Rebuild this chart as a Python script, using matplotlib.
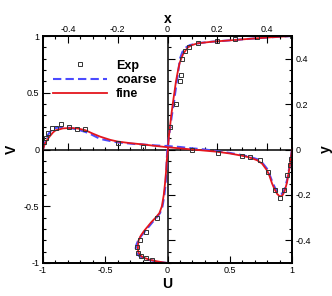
import numpy as np
import matplotlib
matplotlib.use("Agg")
import matplotlib.pyplot as plt
from matplotlib.ticker import MultipleLocator

plt.rcParams['font.family'] = ['Liberation Sans', 'DejaVu Sans']

# V along horizontal centerline, x in [-0.5, 0.5]
x_fine = [-0.5, -0.495, -0.49, -0.48, -0.475, -0.46, -0.45, -0.42, -0.39, -0.36, -0.33, -0.3,
          -0.27, -0.23, -0.2, -0.15, -0.1, -0.05, 0.0, 0.05, 0.1, 0.15, 0.2, 0.25, 0.3,
          0.33, 0.36, 0.38, 0.4, 0.41, 0.42, 0.43, 0.44, 0.45, 0.46, 0.47, 0.48, 0.49, 0.5]
v_fine = [0.0, 0.035, 0.06, 0.095, 0.11, 0.15, 0.168, 0.186, 0.19, 0.185, 0.17, 0.14,
          0.113, 0.085, 0.07, 0.056, 0.045, 0.032, 0.02, 0.01, 0.0, -0.01, -0.02, -0.035, -0.055,
          -0.07, -0.095, -0.125, -0.185, -0.235, -0.3, -0.35, -0.39, -0.412, -0.41, -0.37, -0.29, -0.16, 0.0]

x_coarse = [-0.5, -0.495, -0.49, -0.48, -0.47, -0.45, -0.43, -0.41, -0.39, -0.36, -0.33, -0.31,
            -0.27, -0.23, -0.2, -0.14, -0.1, -0.05, 0.0, 0.05, 0.1, 0.15, 0.2, 0.25, 0.3,
            0.33, 0.36, 0.38, 0.4, 0.41, 0.42, 0.43, 0.44, 0.45, 0.46, 0.47, 0.48, 0.49, 0.5]
v_coarse = [0.0, 0.05, 0.08, 0.13, 0.16, 0.19, 0.196, 0.195, 0.19, 0.175, 0.155, 0.137,
            0.093, 0.075, 0.063, 0.05, 0.044, 0.036, 0.03, 0.022, 0.01, 0.0, -0.015, -0.03, -0.05,
            -0.065, -0.085, -0.115, -0.17, -0.22, -0.28, -0.33, -0.37, -0.392, -0.39, -0.35, -0.27, -0.15, 0.0]

x_exp = [-0.496, -0.488, -0.479, -0.465, -0.448, -0.429, -0.396, -0.362, -0.33, -0.2, -0.097,
         0.1, 0.204, 0.3, 0.33, 0.37, 0.405, 0.43, 0.45, 0.468, 0.48, 0.49, 0.495]
v_exp = [0.07, 0.10, 0.143, 0.187, 0.187, 0.223, 0.196, 0.18, 0.18, 0.055, 0.025,
         0.0, -0.03, -0.057, -0.069, -0.095, -0.2, -0.36, -0.43, -0.36, -0.225, -0.137, -0.086]

# U along vertical centerline, y in [-0.5, 0.5]
y_fine = [-0.5, -0.497, -0.492, -0.486, -0.478, -0.468, -0.455, -0.44, -0.42, -0.4, -0.38, -0.36,
          -0.34, -0.32, -0.3, -0.28, -0.25, -0.2, -0.15, -0.1, -0.05, 0.0, 0.05, 0.1, 0.15,
          0.2, 0.25, 0.3, 0.35, 0.38, 0.4, 0.42, 0.44, 0.45, 0.46, 0.468, 0.475, 0.482, 0.488, 0.494, 0.5]
u_fine = [0.0, -0.04, -0.09, -0.14, -0.185, -0.215, -0.232, -0.238, -0.237, -0.232, -0.215, -0.19,
          -0.16, -0.13, -0.095, -0.065, -0.045, -0.03, -0.02, -0.012, -0.006, 0.003, 0.01, 0.02, 0.03,
          0.042, 0.055, 0.068, 0.085, 0.097, 0.11, 0.125, 0.15, 0.165, 0.195, 0.245, 0.36, 0.53, 0.67, 0.82, 1.0]

y_coarse = [-0.5, -0.497, -0.492, -0.486, -0.478, -0.468, -0.455, -0.435, -0.42, -0.4, -0.38, -0.36,
            -0.34, -0.32, -0.3, -0.28, -0.25, -0.2, -0.15, -0.1, -0.05, 0.0, 0.05, 0.1, 0.15,
            0.2, 0.25, 0.3, 0.35, 0.38, 0.4, 0.43, 0.45, 0.46, 0.47, 0.475, 0.482, 0.488, 0.494, 0.5]
u_coarse = [0.0, -0.05, -0.1, -0.155, -0.2, -0.23, -0.248, -0.255, -0.25, -0.235, -0.21, -0.18,
            -0.15, -0.12, -0.087, -0.06, -0.04, -0.025, -0.015, -0.01, -0.006, -0.002, 0.01, 0.022, 0.035,
            0.05, 0.062, 0.075, 0.088, 0.095, 0.1, 0.12, 0.15, 0.18, 0.27, 0.36, 0.53, 0.67, 0.82, 1.0]

y_exp = [0.1, 0.2, 0.3, 0.33, 0.4, 0.434, 0.453, 0.468, 0.478, 0.485, 0.494, 0.5,
         -0.3, -0.365, -0.398, -0.43, -0.455, -0.47, -0.48, -0.485]
u_exp = [0.024, 0.067, 0.1, 0.106, 0.119, 0.14, 0.175, 0.247, 0.395, 0.54, 0.716, 1.0,
         -0.087, -0.175, -0.218, -0.248, -0.24, -0.215, -0.175, -0.122]

red = "#e4161e"
blue = "#4b4bff"
tick_fs = 6.5
lab_fs = 10

fig = plt.figure(figsize=(3.32, 2.96), dpi=100)
rect = [43 / 332, 33 / 296, 249 / 332, 227 / 296]
ax = fig.add_axes(rect)
ax.set_xlim(-1, 1)
ax.set_ylim(-1, 1)

# centre lines with x / y ticks
axc = fig.add_axes(rect, frameon=True)
axc.patch.set_visible(False)
axc.set_xlim(-0.5, 0.5)
axc.set_ylim(-0.5, 0.5)
axc.spines['left'].set_position(('data', 0))
axc.spines['bottom'].set_position(('data', 0))
axc.spines['top'].set_visible(False)
axc.spines['right'].set_visible(False)
axc.xaxis.set_major_locator(MultipleLocator(0.2))
axc.xaxis.set_minor_locator(MultipleLocator(0.05))
axc.yaxis.set_major_locator(MultipleLocator(0.2))
axc.yaxis.set_minor_locator(MultipleLocator(0.05))
axc.tick_params(which='both', direction='in', labelbottom=False, labelleft=False, width=0.8)
axc.tick_params(which='major', length=5)
axc.tick_params(which='minor', length=2.5)
for s in axc.spines.values():
    s.set_linewidth(1.1)

axU = ax.twinx()   # U vs y
axV = ax.twiny()   # x vs V
axU.set_ylim(-0.5, 0.5)
axV.set_xlim(-0.5, 0.5)

axV.plot(x_coarse, v_coarse, color=blue, lw=1.5, dashes=(4, 2))
axU.plot(u_coarse, y_coarse, color=blue, lw=1.5, dashes=(4, 2))
axV.plot(x_fine, v_fine, color=red, lw=1.3)
axU.plot(u_fine, y_fine, color=red, lw=1.3)
axV.plot(x_exp, v_exp, ls='none', marker='s', ms=2.5, mfc='none', mec='#333333', mew=0.7)
axU.plot(u_exp, y_exp, ls='none', marker='s', ms=2.5, mfc='none', mec='#333333', mew=0.7)

# legend handles
ax.plot([], [], ls='none', marker='s', ms=2.5, mfc='none', mec='#333333', mew=0.7, label='Exp')
ax.plot([], [], color=blue, lw=1.5, dashes=(4, 2), label='coarse')
ax.plot([], [], color=red, lw=1.3, label='fine')
ax.legend(loc='upper left', bbox_to_anchor=(0.04, 0.895), frameon=False, borderpad=0,
          borderaxespad=0, handlelength=4.3, handletextpad=0.75, labelspacing=0.18,
          prop={'weight': 'bold', 'size': 9})

ax.xaxis.set_major_locator(MultipleLocator(0.5))
ax.xaxis.set_minor_locator(MultipleLocator(0.1))
ax.yaxis.set_major_locator(MultipleLocator(0.5))
ax.yaxis.set_minor_locator(MultipleLocator(0.1))
ax.xaxis.set_major_formatter(plt.FuncFormatter(lambda v, p: f"{v:g}"))
ax.yaxis.set_major_formatter(plt.FuncFormatter(lambda v, p: f"{v:g}"))
axU.yaxis.set_major_locator(MultipleLocator(0.2))
axU.yaxis.set_minor_locator(MultipleLocator(0.05))
axV.xaxis.set_major_locator(MultipleLocator(0.2))
axV.xaxis.set_minor_locator(MultipleLocator(0.05))
axU.yaxis.set_major_formatter(plt.FuncFormatter(lambda v, p: f"{v:g}"))
axV.xaxis.set_major_formatter(plt.FuncFormatter(lambda v, p: f"{v:g}"))

for a in (ax, axU, axV):
    a.tick_params(which='both', direction='in', labelsize=tick_fs, pad=2.5, width=0.8)
    a.tick_params(which='major', length=5)
    a.tick_params(which='minor', length=2.5)
    for s in a.spines.values():
        s.set_linewidth(1.1)
ax.tick_params(top=False, right=False)
axV.tick_params(pad=1.5)

ax.set_xlabel('U', fontsize=lab_fs, fontweight='bold', labelpad=1)
ax.set_ylabel('V', fontsize=lab_fs, fontweight='bold', labelpad=4)
axV.set_xlabel('x', fontsize=lab_fs, fontweight='bold', labelpad=1.5)
axU.set_ylabel('y', fontsize=lab_fs, fontweight='bold', labelpad=6, rotation=90)

fig.savefig('out.png', dpi=100)
